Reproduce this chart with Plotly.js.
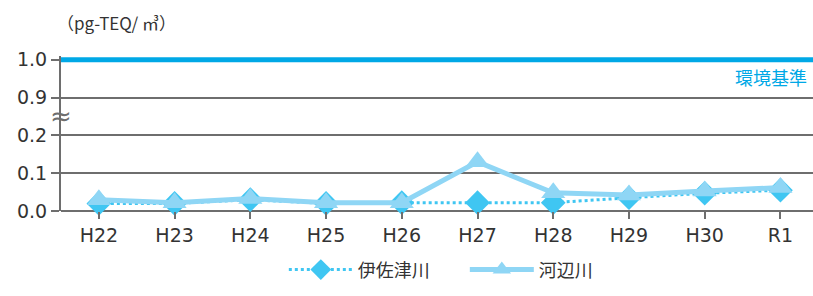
<!DOCTYPE html>
<html>
<head>
<meta charset="utf-8">
<script src="https://cdn.plot.ly/plotly-3.0.1.min.js"></script>
<style>html,body{margin:0;padding:0;background:#fff;}#chart{width:813px;height:296px;}</style>
</head>
<body>
<div id="chart"></div>
<script>
// Data
const years = ["H22","H23","H24","H25","H26","H27","H28","H29","H30","R1"];
const isazu = [0.020, 0.020, 0.030, 0.020, 0.022, 0.022, 0.022, 0.035, 0.047, 0.055];
const kobe  = [0.030, 0.022, 0.033, 0.022, 0.022, 0.130, 0.048, 0.042, 0.053, 0.062];
const standardValue = 1.0;
const yTickValues = [0.0, 0.1, 0.2, 0.9, 1.0];
const yTickLabels = ["0.0", "0.1", "0.2", "0.9", "1.0"];
const seriesNames = ["伊佐津川", "河辺川"];

// Broken axis: values up to 0.2 drawn as is; 0.9-1.0 drawn just above 0.2
function tf(v) { return v <= 0.25 ? v : v - 0.6; }

const cjk = "'Noto Sans CJK JP', 'Noto Sans', sans-serif";
const latin = "'DejaVu Sans', sans-serif";
const gray = "#6e6e6e";
const txt = "#333";

const traces = [
  {
    x: years, y: isazu.map(tf), name: seriesNames[0], type: "scatter", mode: "lines+markers",
    line: {color: "#3fc6f2", width: 3, dash: "dot"},
    marker: {symbol: "diamond", size: 19, color: "#3fc6f2"},
    cliponaxis: false
  },
  {
    x: years, y: kobe.map(tf), name: seriesNames[1], type: "scatter", mode: "lines+markers",
    line: {color: "#8fd6f5", width: 5},
    marker: {symbol: "triangle-up", size: 21, color: "#8fd6f5"},
    cliponaxis: false
  }
];

const layout = {
  width: 813, height: 296,
  margin: {l: 61, r: 0, t: 56, b: 85},
  paper_bgcolor: "#fff", plot_bgcolor: "#fff",
  font: {family: cjk, size: 19, color: txt},
  showlegend: true,
  legend: {orientation: "h", x: 0.537, xanchor: "center", y: -0.38, yanchor: "middle",
           itemwidth: 64, entrywidth: 102, font: {size: 18, color: txt, family: cjk}, traceorder: "normal"},
  xaxis: {
    type: "category", range: [-0.5, 9.43],
    showgrid: false, zeroline: false, showline: false,
    ticks: "outside", ticklen: 7, tickwidth: 2, tickcolor: gray,
    tickfont: {size: 19, color: txt, family: latin}, fixedrange: true
  },
  yaxis: {
    range: [0, 0.41],
    tickmode: "array", tickvals: yTickValues.map(tf), ticktext: yTickLabels,
    showgrid: true, gridcolor: gray, gridwidth: 2,
    zeroline: true, zerolinecolor: gray, zerolinewidth: 2,
    showline: true, linecolor: gray, linewidth: 2,
    ticks: "outside", ticklen: 8, tickwidth: 2, tickcolor: gray,
    tickfont: {size: 19, color: txt, family: latin}, fixedrange: true
  },
  shapes: [
    {type: "line", xref: "paper", x0: 0, x1: 1, yref: "y", y0: tf(standardValue), y1: tf(standardValue),
     line: {color: "#00a8e6", width: 5}}
  ],
  annotations: [
    {xref: "paper", yref: "paper", x: 0.074, y: 1.215, xanchor: "center", yanchor: "middle",
     text: "（pg-TEQ/ ㎥）", showarrow: false, font: {size: 17, color: txt, family: cjk}},
    {xref: "paper", yref: "y", x: 0.995, y: tf(standardValue) - 0.045, xanchor: "right", yanchor: "middle",
     text: "環境基準", showarrow: false, font: {size: 18, color: "#00a8e6", family: cjk}},
    {xref: "paper", yref: "y", x: 0, y: 0.25, xanchor: "center", yanchor: "middle",
     text: "≈", showarrow: false, font: {size: 26, color: gray, family: "DejaVu Sans"}}
  ]
};

Plotly.newPlot("chart", traces, layout, {displayModeBar: false, staticPlot: true});
</script>
</body>
</html>
